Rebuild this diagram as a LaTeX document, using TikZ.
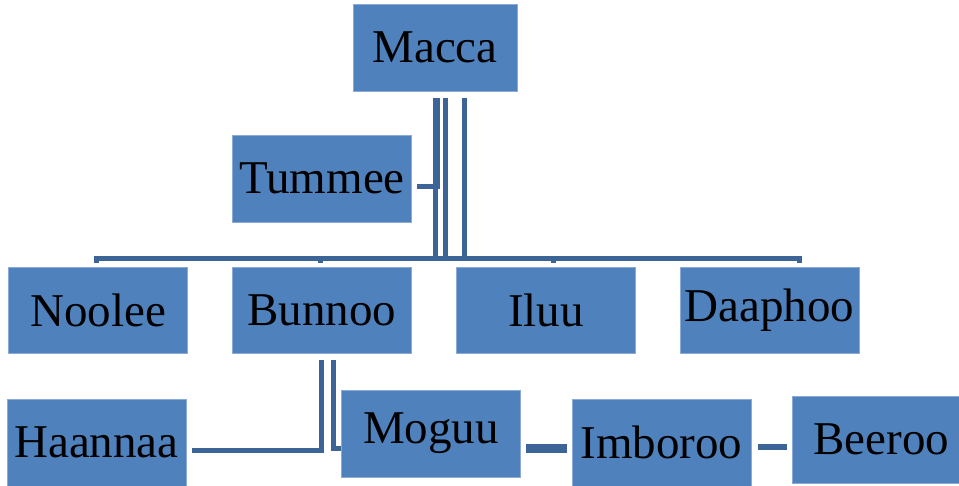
\documentclass[tikz,border=0pt]{standalone}
\usepackage{fontspec}
\setmainfont{Liberation Serif}
\usetikzlibrary{calc}
\definecolor{boxfill}{RGB}{79,129,189}
\definecolor{boxline}{RGB}{140,170,215}
\definecolor{conn}{RGB}{61,100,150}
\tikzset{
  orgbox/.style={draw=boxline, line width=1pt, fill=boxfill, minimum width=179pt, minimum height=87pt, inner sep=0pt, font=\fontsize{47}{56}\selectfont, text=black},
  link/.style={draw=conn, line width=5pt}
}
\begin{document}
\begin{tikzpicture}[x=1pt,y=-1pt]
\useasboundingbox (0,0) rectangle (959,485);
\clip (0,0) rectangle (959,485);
% nodes
\node[orgbox, minimum width=164pt] (macca) at (435,47.5) {Macca};
\node[orgbox] (tummee) at (322,178.5) {Tummee};
\node[orgbox, minimum height=86pt] (noolee) at (98,310) {Noolee};
\node[orgbox, minimum height=86pt] (bunnoo) at (322,310) {Bunnoo};
\node[orgbox, minimum height=86pt] (iluu) at (546,310) {Iluu};
\node[orgbox, minimum height=86pt] (daaphoo) at (769.5,310) {Daaphoo};
\node[orgbox] (haannaa) at (96.5,442.5) {Haannaa};
\node[orgbox] (moguu) at (431,433.5) {Moguu};
\node[orgbox] (imboroo) at (661.5,442.5) {Imboroo};
\node[orgbox] (beeroo) at (881.5,439.5) {Beeroo};
\coordinate (busy) at (0,258);
% Macca connectors
\draw[link, line cap=butt] ([xshift=2.5pt,yshift=-6pt]macca.south) |- ([xshift=5pt,yshift=-8pt]tummee.east);
\draw[link] ([yshift=-6pt]macca.south) -- (macca.south |- busy) -| ([xshift=-2pt,yshift=4pt]noolee.north);
\draw[link] ([xshift=10pt,yshift=-6pt]macca.south) -- ([xshift=10pt]macca.south |- busy) -| ([xshift=-2pt,yshift=4pt]bunnoo.north);
\draw[link] ([xshift=10pt,yshift=-6pt]macca.south) -- ([xshift=10pt]macca.south |- busy) -| ([xshift=7pt,yshift=4pt]iluu.north);
\draw[link] ([xshift=29.5pt,yshift=-6pt]macca.south) -- ([xshift=29.5pt]macca.south |- busy) -| ([xshift=29.5pt,yshift=4pt]daaphoo.north);
% Bunnoo connectors
\draw[link] ([xshift=-0.5pt,yshift=-6pt]bunnoo.south) |- ([xshift=5pt,yshift=-8pt]haannaa.east);
\draw[link] ([xshift=11pt,yshift=-6pt]bunnoo.south) |- ([yshift=-14.5pt]moguu.west);
% chain
\draw[link, line width=9pt] ([xshift=5pt,yshift=-14.5pt]moguu.east) -- ([xshift=-5pt,yshift=-5.5pt]imboroo.west);
\draw[link, line width=6pt] ([xshift=6pt,yshift=-4pt]imboroo.east) -- ([xshift=-5pt,yshift=-7pt]beeroo.west);
\end{tikzpicture}
\end{document}
